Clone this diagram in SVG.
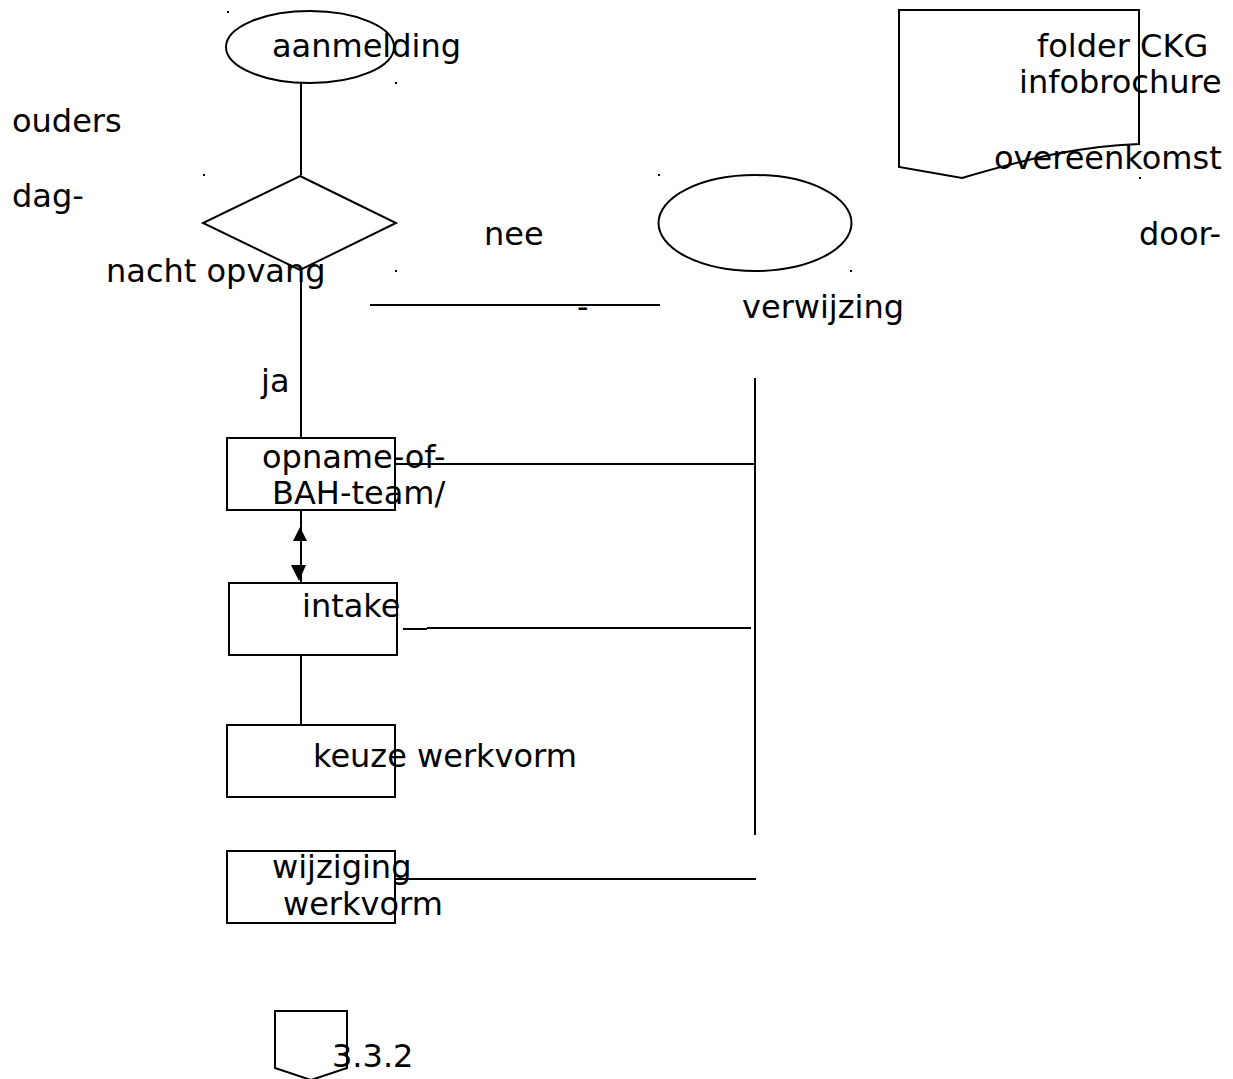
<svg xmlns="http://www.w3.org/2000/svg" width="1233" height="1079" viewBox="0 0 1233 1079">
<style>
.s{fill:none;stroke:#000;stroke-width:2}
.t{font-family:"DejaVu Sans",sans-serif;font-size:32px;fill:#000}
.d{fill:#000}
</style>
<rect width="1233" height="1079" fill="#fff"/>
<g id="dots">
<rect class="d" x="227" y="11" width="2" height="2"/>
<rect class="d" x="395" y="82" width="2" height="2"/>
<rect class="d" x="203" y="174" width="2" height="2"/>
<rect class="d" x="395" y="270" width="2" height="2"/>
<rect class="d" x="658" y="174" width="2" height="2"/>
<rect class="d" x="850" y="270" width="2" height="2"/>
<rect class="d" x="1139" y="177" width="2" height="2"/>
</g>
<g id="connectors">
<line class="s" x1="301" y1="83" x2="301" y2="175"/>
<line class="s" x1="301" y1="270" x2="301" y2="438"/>
<line class="s" x1="370" y1="305" x2="660" y2="305"/>
<line class="s" x1="755" y1="378" x2="755" y2="835"/>
<line class="s" x1="395" y1="464" x2="756" y2="464"/>
<line class="s" x1="301" y1="510" x2="301" y2="583"/>
<polygon class="d" points="300,527 293,541 307,541"/>
<polygon class="d" points="291,565 306,565 299,581"/>
<line class="s" x1="403" y1="629" x2="427" y2="629"/>
<line class="s" x1="427" y1="628" x2="751" y2="628"/>
<line class="s" x1="301" y1="655" x2="301" y2="725"/>
<line class="s" x1="395" y1="879" x2="756" y2="879"/>
</g>
<g id="aanmelding">
<ellipse class="s" cx="310" cy="47" rx="84" ry="36"/>
<text class="t" x="272" y="57">aanmelding</text>
</g>
<g id="ouders">
<text class="t" x="12" y="132">ouders</text>
<text class="t" x="12" y="207">dag-</text>
</g>
<g id="beslissing">
<polygon class="s" points="300,176 396,223 300,270 203,223"/>
<text class="t" x="106" y="282">nacht opvang</text>
</g>
<g id="nee"><text class="t" x="484" y="245">nee</text></g>
<g id="ja"><text class="t" x="261" y="392">ja</text></g>
<g id="verwijzing">
<ellipse class="s" cx="755" cy="223" rx="96.5" ry="48"/>
<text class="t" x="1139" y="245">door-</text>
<text class="t" x="742" y="318">verwijzing</text>
<text class="t" x="577" y="318">-</text>
</g>
<g id="document">
<path class="s" d="M899,10 L1139,10 L1139,144 C1080,146 1030,158 962,178 L899,167 Z"/>
<text class="t" x="1037" y="57">folder CKG</text>
<text class="t" x="1019" y="93">infobrochure</text>
<text class="t" x="994" y="169">overeenkomst</text>
</g>
<g id="opname">
<rect class="s" x="227" y="438" width="168" height="72"/>
<text class="t" x="262" y="468">opname-of-</text>
<text class="t" x="272" y="504">BAH-team/</text>
</g>
<g id="intake">
<rect class="s" x="229" y="583" width="168" height="72"/>
<text class="t" x="302" y="617">intake</text>
</g>
<g id="keuze">
<rect class="s" x="227" y="725" width="168" height="72"/>
<text class="t" x="313" y="767">keuze werkvorm</text>
</g>
<g id="wijziging">
<rect class="s" x="227" y="851" width="168" height="72"/>
<text class="t" x="272" y="878">wijziging</text>
<text class="t" x="283" y="915">werkvorm</text>
</g>
<g id="connector332">
<path class="s" d="M275,1011 L347,1011 L347,1068 L311,1080 L275,1068 Z"/>
<text class="t" x="332" y="1067">3.3.2</text>
</g>
</svg>
